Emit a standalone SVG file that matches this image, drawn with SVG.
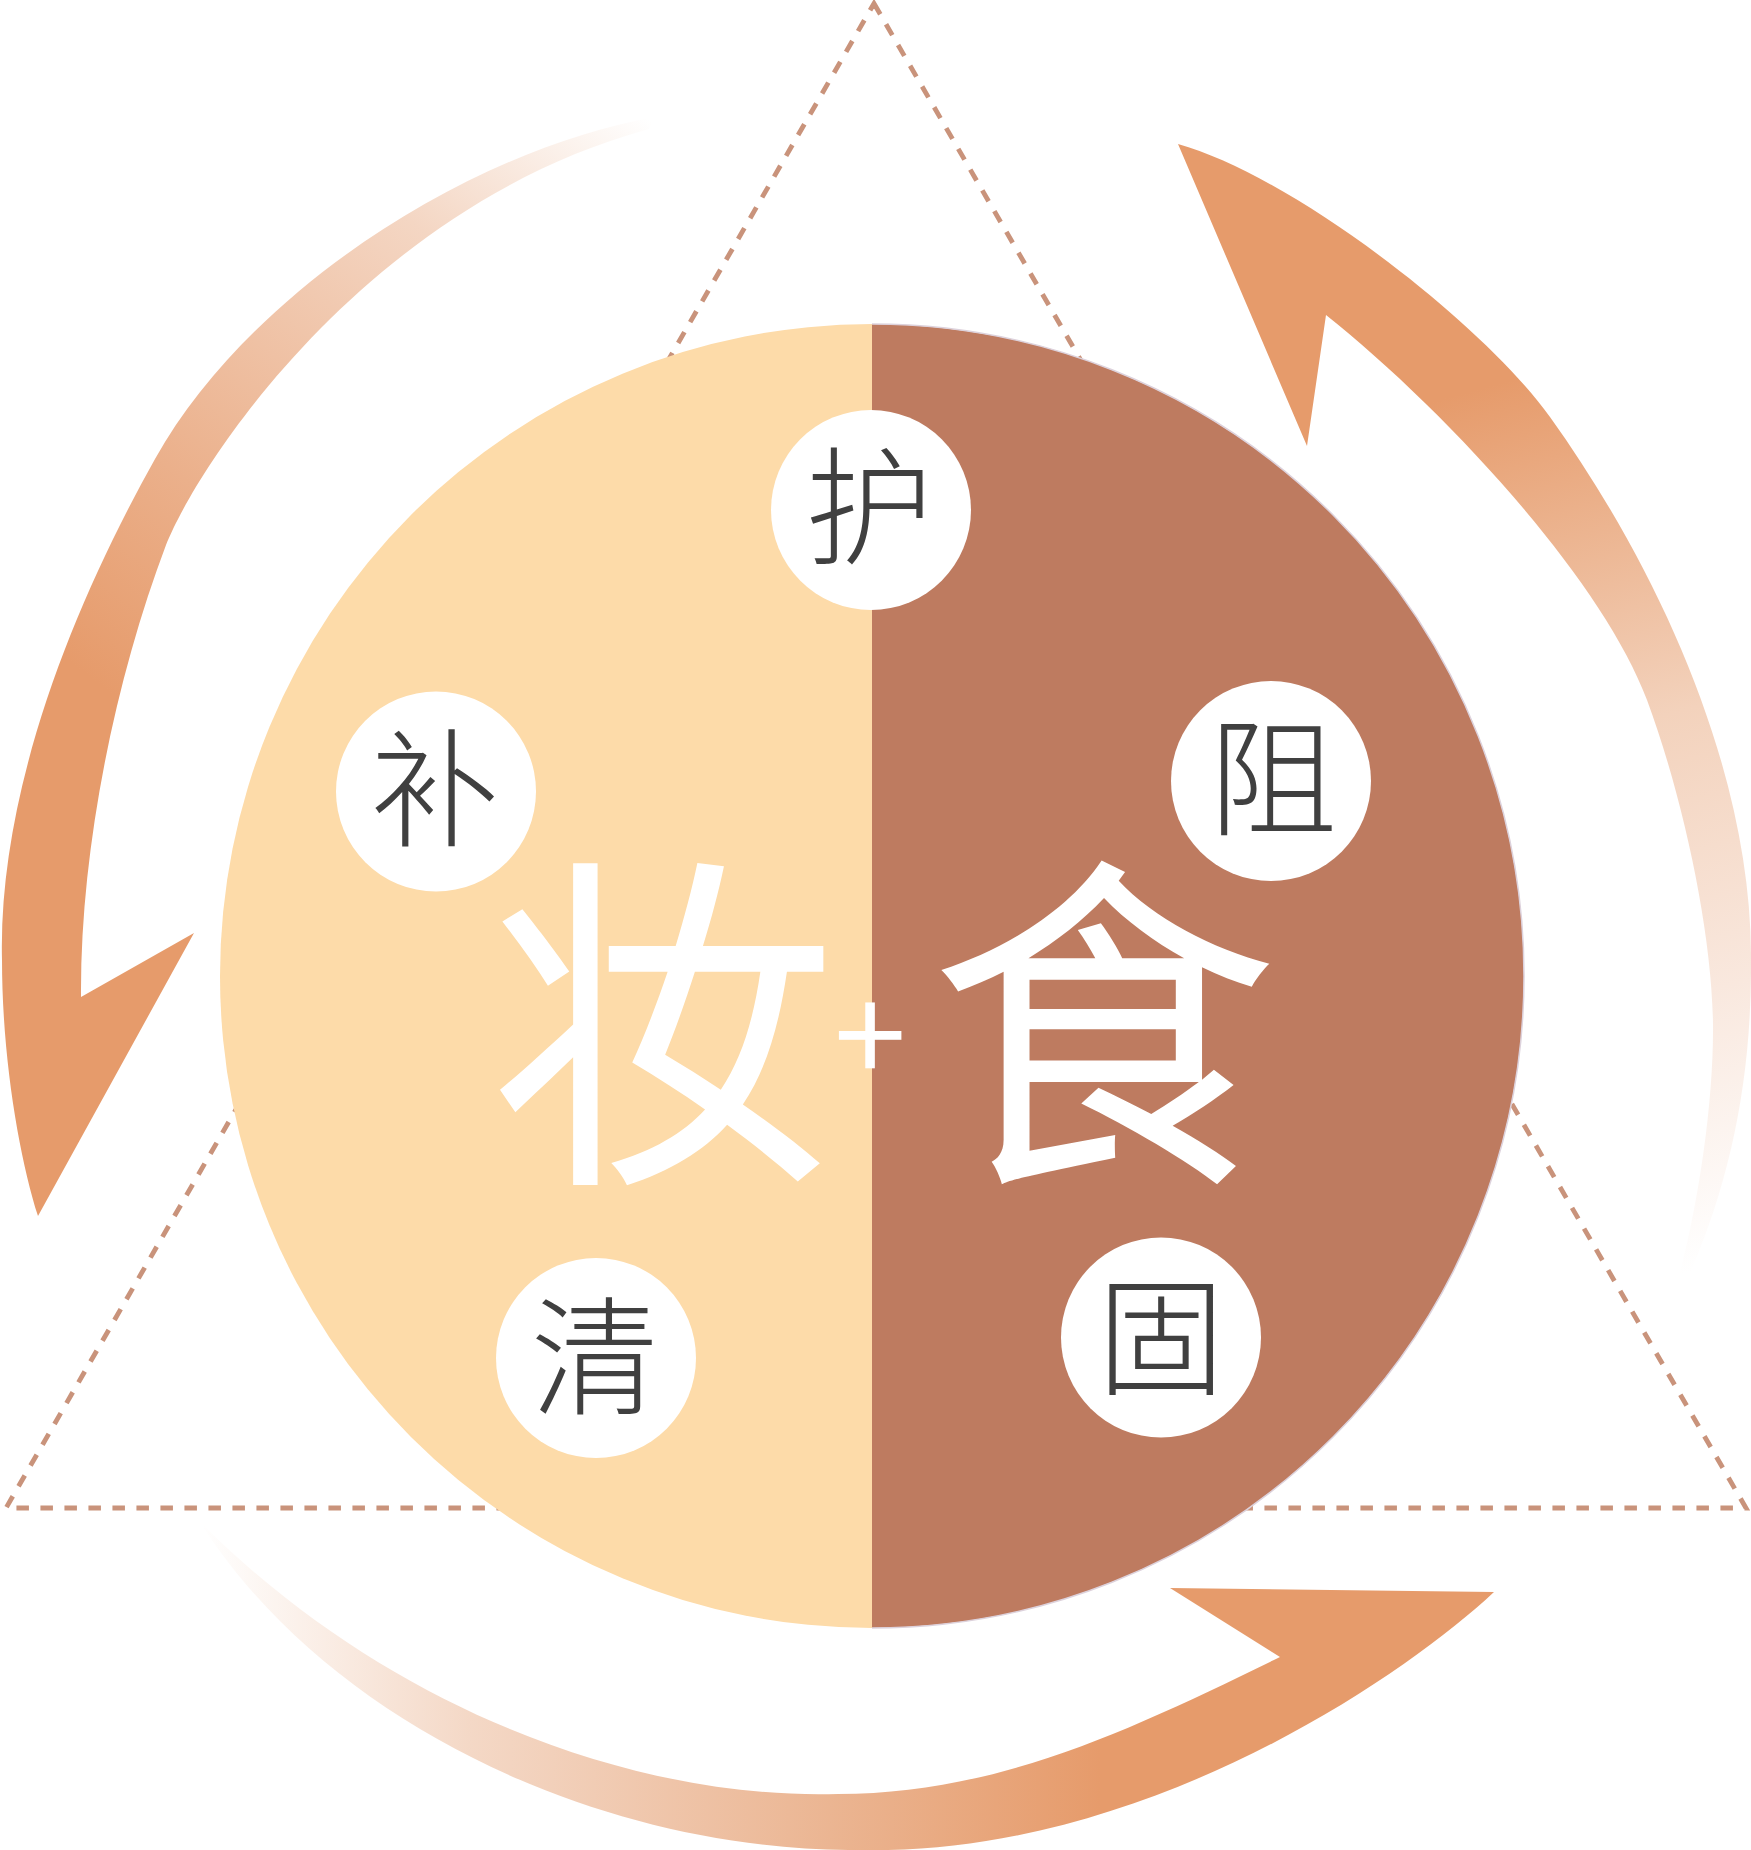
<svg xmlns="http://www.w3.org/2000/svg" width="1751" height="1850" viewBox="0 0 1751 1850">
<style>
.tri{fill:none;stroke:#c9937b;stroke-width:4.8;stroke-dasharray:12.5 11.5}
.dot{fill:#ffffff}
.lbl{font-family:"Noto Sans CJK SC","Noto Sans CJK JP",sans-serif;font-size:128px;font-weight:300;fill:#404040;text-anchor:middle}
.big{font-family:"Noto Sans CJK SC","Noto Sans CJK JP",sans-serif;font-size:350px;font-weight:400;fill:#ffffff;text-anchor:middle}
.plus{font-family:"Noto Sans CJK SC","Noto Sans CJK JP",sans-serif;font-size:130px;font-weight:400;fill:#ffffff;text-anchor:middle}
</style>
<defs>
<linearGradient id="gL" gradientUnits="userSpaceOnUse" x1="60" y1="900" x2="650" y2="120">
<stop offset="0" stop-color="#e69b6b"/>
<stop offset="0.2" stop-color="#e69b6b"/>
<stop offset="0.42" stop-color="#ebb08b"/>
<stop offset="0.77" stop-color="#f4d6c3"/>
<stop offset="1" stop-color="#ffffff"/>
</linearGradient>
<linearGradient id="gR" gradientUnits="userSpaceOnUse" x1="1400" y1="300" x2="1680" y2="1330">
<stop offset="0" stop-color="#e69b6b"/>
<stop offset="0.1" stop-color="#e69b6b"/>
<stop offset="0.44" stop-color="#f3d2bc"/>
<stop offset="0.7" stop-color="#f9e8de"/>
<stop offset="0.95" stop-color="#ffffff"/>
</linearGradient>
<linearGradient id="gB" gradientUnits="userSpaceOnUse" x1="1100" y1="1700" x2="200" y2="1700">
<stop offset="0" stop-color="#e69b6b"/>
<stop offset="0.3" stop-color="#ebb592"/>
<stop offset="0.7" stop-color="#f4d8c6"/>
<stop offset="1" stop-color="#ffffff"/>
</linearGradient>
</defs>
<rect width="1751" height="1850" fill="#ffffff"/>
<g id="triangle">
<path class="tri" d="M874,3.5 L1746,1508 L6,1508 Z"/>
</g>
<g id="connectors">
<path id="arrow-left" fill="url(#gL)" d="M38,1216 L194,933 L81,997 C80,850 115,680 166,545 C200,460 370,205 649,129 L655,117 C470,150 250,290 155,459 C67,616 -2,800 2,960 C2,1060 20,1160 38,1216 Z"/>
<path id="arrow-right" fill="url(#gR)" d="M1178,144 L1307,446 L1326,315 C1443,408 1601.5,578 1647,700 C1682,794 1712,930 1713,1024 C1714,1120 1690,1260 1660,1335 C1722,1220 1752,1100 1751,960 C1752,780 1666,579 1550,417 C1480,320 1290,175 1178,144 Z"/>
<path id="arrow-bottom" fill="url(#gB)" d="M1494,1592 L1170,1588 L1280,1657 C1136,1727 1000,1794 838,1794 C640,1800 390,1712 200,1522 L195,1514 C320,1720 600,1852 860,1850 C1140,1856 1400,1680 1494,1592 Z"/>
</g>
<g id="main-circle">
<path fill="#fddba9" d="M872,324 A652,652 0 0 0 872,1628 Z"/>
<path fill="#be7b60" d="M872,324 A652,652 0 0 1 872,1628 Z"/>
<path fill="none" stroke="#ddd2dc" stroke-width="1.5" d="M872,324 A652,652 0 0 1 872,1628"/>
</g>
<g id="center-text">
<text class="big" x="662" y="1157">妆</text>
<text class="plus" x="870" y="1083">+</text>
<text class="big" x="1103" y="1157">食</text>
</g>
<g id="node-hu">
<circle class="dot" cx="871" cy="510" r="100"/>
<text class="lbl" x="869" y="555">护</text>
</g>
<g id="node-bu">
<circle class="dot" cx="436" cy="791.5" r="100"/>
<text class="lbl" x="435" y="837">补</text>
</g>
<g id="node-zu">
<circle class="dot" cx="1271" cy="781" r="100"/>
<text class="lbl" x="1273" y="826">阻</text>
</g>
<g id="node-qing">
<circle class="dot" cx="596" cy="1358" r="100"/>
<text class="lbl" x="595" y="1405">清</text>
</g>
<g id="node-gu">
<circle class="dot" cx="1161" cy="1337.5" r="100"/>
<text class="lbl" x="1161" y="1385">固</text>
</g>
</svg>
